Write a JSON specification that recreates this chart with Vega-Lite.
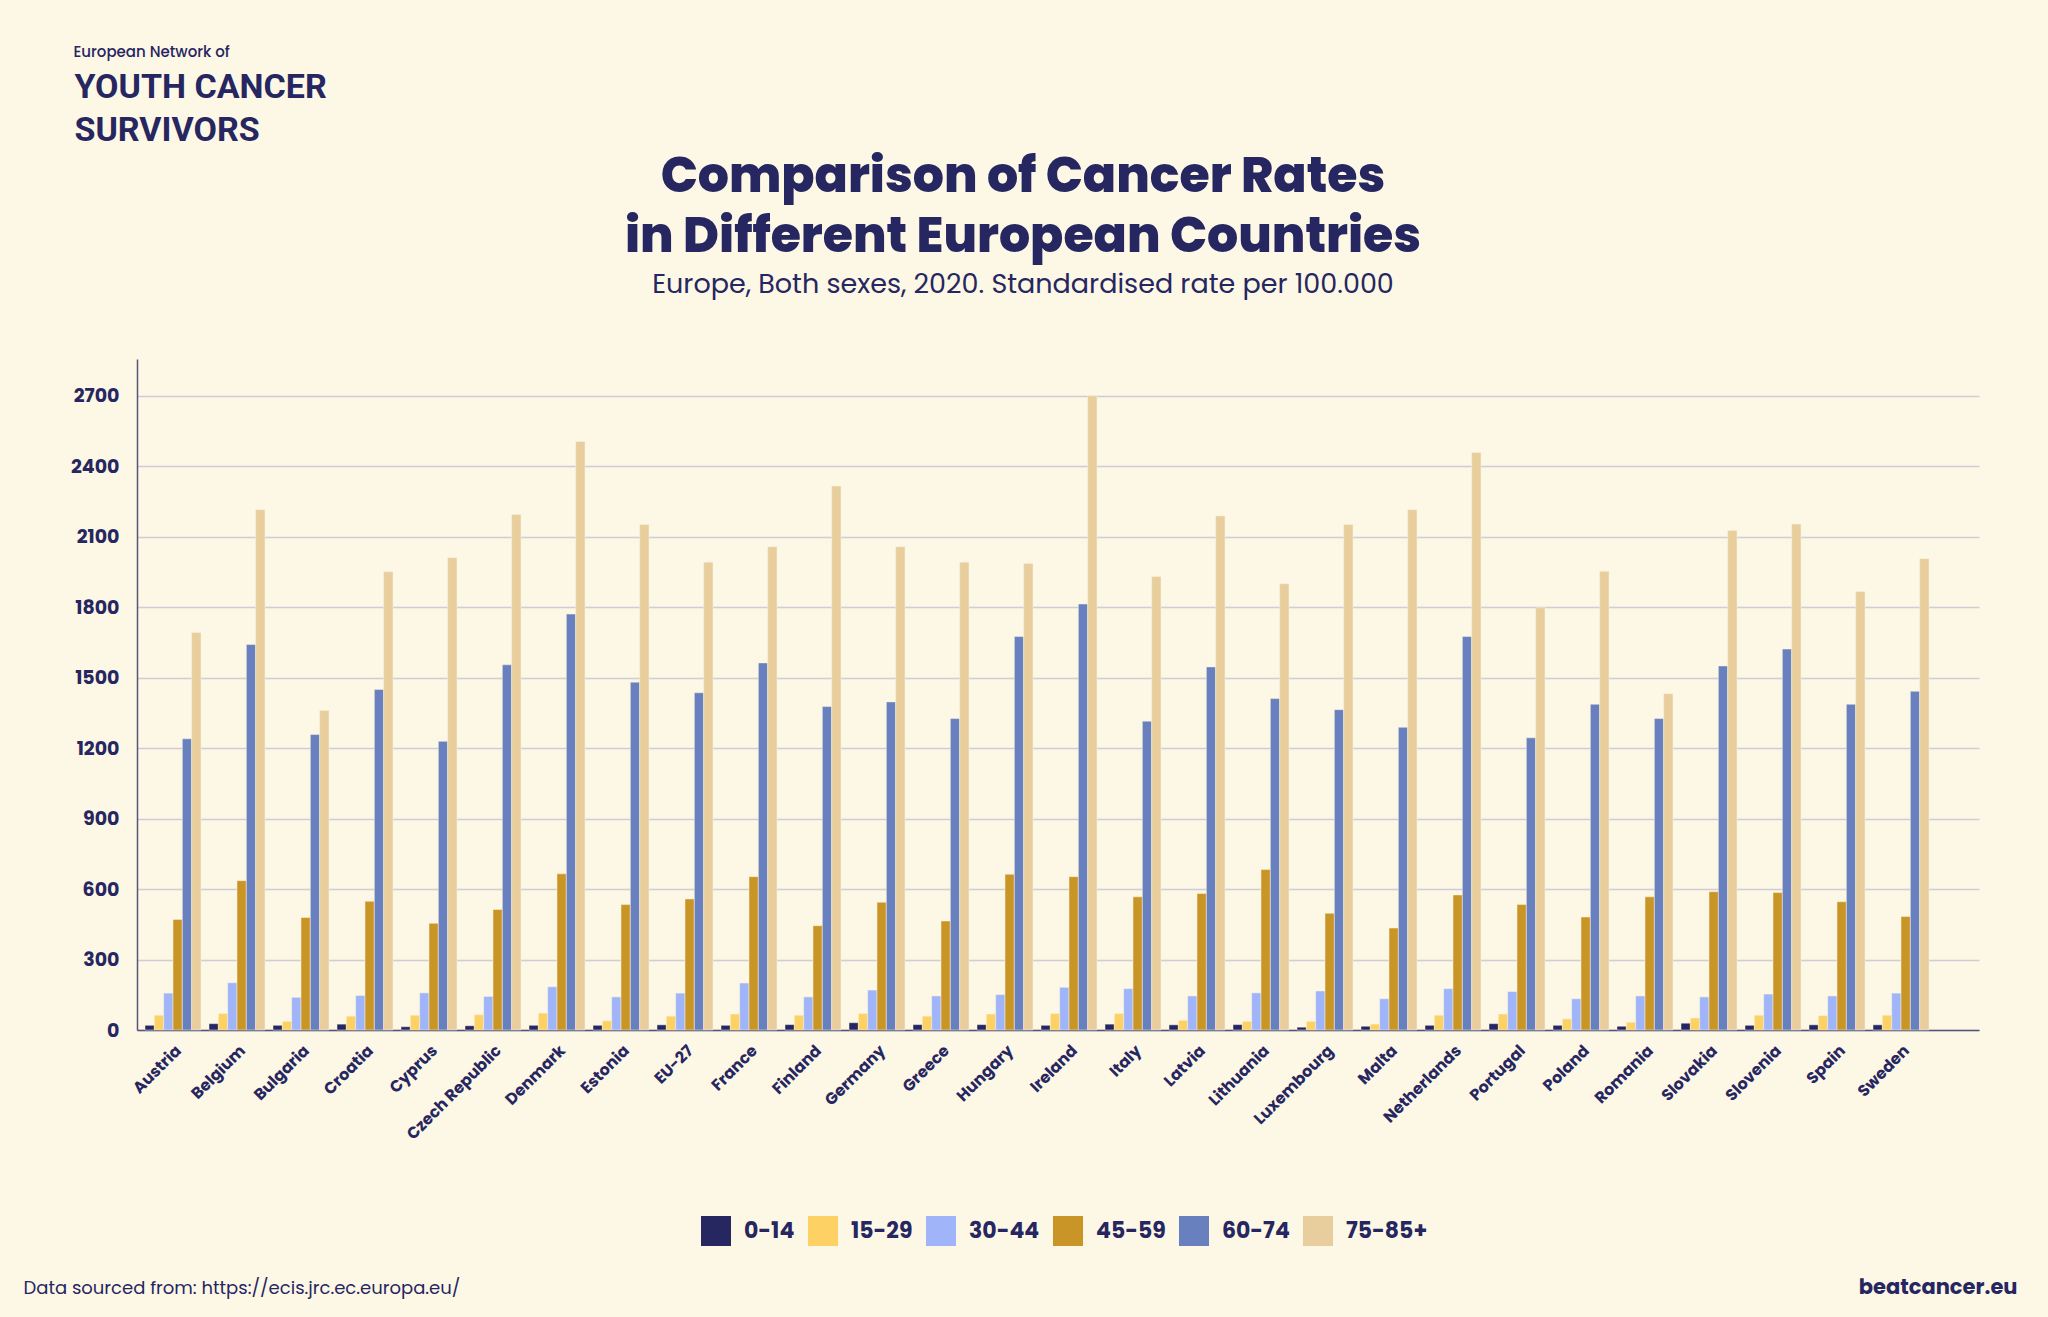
{
  "$schema": "https://vega.github.io/schema/vega-lite/v6.json",
  "width": 1842,
  "height": 671,
  "autosize": {"type": "none"},
  "padding": {"left": 137, "top": 359, "right": 69, "bottom": 287},
  "background": "#fdf7e6",
  "title": {
    "text": ["Comparison of Cancer Rates", "in Different European Countries"],
    "subtitle": "Europe, Both sexes, 2020. Standardised rate per 100.000",
    "anchor": "middle",
    "frame": "group",
    "dx": -35,
    "offset": -254,
    "font": "Poppins, Inter, sans-serif",
    "fontSize": 49,
    "fontWeight": 800,
    "lineHeight": 60,
    "color": "#262660",
    "subtitleFont": "Poppins, Inter, sans-serif",
    "subtitleFontSize": 27,
    "subtitleColor": "#262660",
    "subtitlePadding": 10
  },
  "data": {
    "values": [
      {"country": "Austria", "age": "0-14", "value": 20}, {"country": "Austria", "age": "15-29", "value": 63}, {"country": "Austria", "age": "30-44", "value": 157}, {"country": "Austria", "age": "45-59", "value": 471}, {"country": "Austria", "age": "60-74", "value": 1240}, {"country": "Austria", "age": "75-85+", "value": 1692},
      {"country": "Belgium", "age": "0-14", "value": 27}, {"country": "Belgium", "age": "15-29", "value": 70}, {"country": "Belgium", "age": "30-44", "value": 201}, {"country": "Belgium", "age": "45-59", "value": 636}, {"country": "Belgium", "age": "60-74", "value": 1641}, {"country": "Belgium", "age": "75-85+", "value": 2215},
      {"country": "Bulgaria", "age": "0-14", "value": 20}, {"country": "Bulgaria", "age": "15-29", "value": 37}, {"country": "Bulgaria", "age": "30-44", "value": 139}, {"country": "Bulgaria", "age": "45-59", "value": 479}, {"country": "Bulgaria", "age": "60-74", "value": 1258}, {"country": "Bulgaria", "age": "75-85+", "value": 1360},
      {"country": "Croatia", "age": "0-14", "value": 25}, {"country": "Croatia", "age": "15-29", "value": 59}, {"country": "Croatia", "age": "30-44", "value": 147}, {"country": "Croatia", "age": "45-59", "value": 548}, {"country": "Croatia", "age": "60-74", "value": 1450}, {"country": "Croatia", "age": "75-85+", "value": 1951},
      {"country": "Cyprus", "age": "0-14", "value": 14}, {"country": "Cyprus", "age": "15-29", "value": 63}, {"country": "Cyprus", "age": "30-44", "value": 158}, {"country": "Cyprus", "age": "45-59", "value": 454}, {"country": "Cyprus", "age": "60-74", "value": 1229}, {"country": "Cyprus", "age": "75-85+", "value": 2011},
      {"country": "Czech Republic", "age": "0-14", "value": 18}, {"country": "Czech Republic", "age": "15-29", "value": 65}, {"country": "Czech Republic", "age": "30-44", "value": 143}, {"country": "Czech Republic", "age": "45-59", "value": 513}, {"country": "Czech Republic", "age": "60-74", "value": 1555}, {"country": "Czech Republic", "age": "75-85+", "value": 2195},
      {"country": "Denmark", "age": "0-14", "value": 20}, {"country": "Denmark", "age": "15-29", "value": 72}, {"country": "Denmark", "age": "30-44", "value": 184}, {"country": "Denmark", "age": "45-59", "value": 665}, {"country": "Denmark", "age": "60-74", "value": 1771}, {"country": "Denmark", "age": "75-85+", "value": 2506},
      {"country": "Estonia", "age": "0-14", "value": 20}, {"country": "Estonia", "age": "15-29", "value": 39}, {"country": "Estonia", "age": "30-44", "value": 141}, {"country": "Estonia", "age": "45-59", "value": 534}, {"country": "Estonia", "age": "60-74", "value": 1481}, {"country": "Estonia", "age": "75-85+", "value": 2152},
      {"country": "EU-27", "age": "0-14", "value": 22}, {"country": "EU-27", "age": "15-29", "value": 59}, {"country": "EU-27", "age": "30-44", "value": 157}, {"country": "EU-27", "age": "45-59", "value": 558}, {"country": "EU-27", "age": "60-74", "value": 1436}, {"country": "EU-27", "age": "75-85+", "value": 1992},
      {"country": "France", "age": "0-14", "value": 20}, {"country": "France", "age": "15-29", "value": 68}, {"country": "France", "age": "30-44", "value": 200}, {"country": "France", "age": "45-59", "value": 653}, {"country": "France", "age": "60-74", "value": 1563}, {"country": "France", "age": "75-85+", "value": 2058},
      {"country": "Finland", "age": "0-14", "value": 23}, {"country": "Finland", "age": "15-29", "value": 63}, {"country": "Finland", "age": "30-44", "value": 141}, {"country": "Finland", "age": "45-59", "value": 444}, {"country": "Finland", "age": "60-74", "value": 1377}, {"country": "Finland", "age": "75-85+", "value": 2316},
      {"country": "Germany", "age": "0-14", "value": 31}, {"country": "Germany", "age": "15-29", "value": 70}, {"country": "Germany", "age": "30-44", "value": 170}, {"country": "Germany", "age": "45-59", "value": 544}, {"country": "Germany", "age": "60-74", "value": 1397}, {"country": "Germany", "age": "75-85+", "value": 2058},
      {"country": "Greece", "age": "0-14", "value": 23}, {"country": "Greece", "age": "15-29", "value": 59}, {"country": "Greece", "age": "30-44", "value": 145}, {"country": "Greece", "age": "45-59", "value": 464}, {"country": "Greece", "age": "60-74", "value": 1326}, {"country": "Greece", "age": "75-85+", "value": 1992},
      {"country": "Hungary", "age": "0-14", "value": 23}, {"country": "Hungary", "age": "15-29", "value": 68}, {"country": "Hungary", "age": "30-44", "value": 151}, {"country": "Hungary", "age": "45-59", "value": 663}, {"country": "Hungary", "age": "60-74", "value": 1675}, {"country": "Hungary", "age": "75-85+", "value": 1986},
      {"country": "Ireland", "age": "0-14", "value": 20}, {"country": "Ireland", "age": "15-29", "value": 70}, {"country": "Ireland", "age": "30-44", "value": 182}, {"country": "Ireland", "age": "45-59", "value": 653}, {"country": "Ireland", "age": "60-74", "value": 1814}, {"country": "Ireland", "age": "75-85+", "value": 2700},
      {"country": "Italy", "age": "0-14", "value": 25}, {"country": "Italy", "age": "15-29", "value": 70}, {"country": "Italy", "age": "30-44", "value": 176}, {"country": "Italy", "age": "45-59", "value": 567}, {"country": "Italy", "age": "60-74", "value": 1315}, {"country": "Italy", "age": "75-85+", "value": 1931},
      {"country": "Latvia", "age": "0-14", "value": 22}, {"country": "Latvia", "age": "15-29", "value": 41}, {"country": "Latvia", "age": "30-44", "value": 145}, {"country": "Latvia", "age": "45-59", "value": 581}, {"country": "Latvia", "age": "60-74", "value": 1546}, {"country": "Latvia", "age": "75-85+", "value": 2189},
      {"country": "Lithuania", "age": "0-14", "value": 23}, {"country": "Lithuania", "age": "15-29", "value": 37}, {"country": "Lithuania", "age": "30-44", "value": 158}, {"country": "Lithuania", "age": "45-59", "value": 683}, {"country": "Lithuania", "age": "60-74", "value": 1411}, {"country": "Lithuania", "age": "75-85+", "value": 1900},
      {"country": "Luxembourg", "age": "0-14", "value": 12}, {"country": "Luxembourg", "age": "15-29", "value": 37}, {"country": "Luxembourg", "age": "30-44", "value": 166}, {"country": "Luxembourg", "age": "45-59", "value": 497}, {"country": "Luxembourg", "age": "60-74", "value": 1364}, {"country": "Luxembourg", "age": "75-85+", "value": 2152},
      {"country": "Malta", "age": "0-14", "value": 16}, {"country": "Malta", "age": "15-29", "value": 25}, {"country": "Malta", "age": "30-44", "value": 133}, {"country": "Malta", "age": "45-59", "value": 434}, {"country": "Malta", "age": "60-74", "value": 1289}, {"country": "Malta", "age": "75-85+", "value": 2215},
      {"country": "Netherlands", "age": "0-14", "value": 20}, {"country": "Netherlands", "age": "15-29", "value": 63}, {"country": "Netherlands", "age": "30-44", "value": 176}, {"country": "Netherlands", "age": "45-59", "value": 575}, {"country": "Netherlands", "age": "60-74", "value": 1675}, {"country": "Netherlands", "age": "75-85+", "value": 2459},
      {"country": "Portugal", "age": "0-14", "value": 27}, {"country": "Portugal", "age": "15-29", "value": 68}, {"country": "Portugal", "age": "30-44", "value": 164}, {"country": "Portugal", "age": "45-59", "value": 534}, {"country": "Portugal", "age": "60-74", "value": 1244}, {"country": "Portugal", "age": "75-85+", "value": 1798},
      {"country": "Poland", "age": "0-14", "value": 20}, {"country": "Poland", "age": "15-29", "value": 47}, {"country": "Poland", "age": "30-44", "value": 133}, {"country": "Poland", "age": "45-59", "value": 481}, {"country": "Poland", "age": "60-74", "value": 1387}, {"country": "Poland", "age": "75-85+", "value": 1953},
      {"country": "Romania", "age": "0-14", "value": 16}, {"country": "Romania", "age": "15-29", "value": 33}, {"country": "Romania", "age": "30-44", "value": 145}, {"country": "Romania", "age": "45-59", "value": 567}, {"country": "Romania", "age": "60-74", "value": 1326}, {"country": "Romania", "age": "75-85+", "value": 1432},
      {"country": "Slovakia", "age": "0-14", "value": 29}, {"country": "Slovakia", "age": "15-29", "value": 51}, {"country": "Slovakia", "age": "30-44", "value": 141}, {"country": "Slovakia", "age": "45-59", "value": 589}, {"country": "Slovakia", "age": "60-74", "value": 1550}, {"country": "Slovakia", "age": "75-85+", "value": 2127},
      {"country": "Slovenia", "age": "0-14", "value": 20}, {"country": "Slovenia", "age": "15-29", "value": 63}, {"country": "Slovenia", "age": "30-44", "value": 153}, {"country": "Slovenia", "age": "45-59", "value": 585}, {"country": "Slovenia", "age": "60-74", "value": 1622}, {"country": "Slovenia", "age": "75-85+", "value": 2154},
      {"country": "Spain", "age": "0-14", "value": 22}, {"country": "Spain", "age": "15-29", "value": 61}, {"country": "Spain", "age": "30-44", "value": 145}, {"country": "Spain", "age": "45-59", "value": 546}, {"country": "Spain", "age": "60-74", "value": 1387}, {"country": "Spain", "age": "75-85+", "value": 1867},
      {"country": "Sweden", "age": "0-14", "value": 22}, {"country": "Sweden", "age": "15-29", "value": 63}, {"country": "Sweden", "age": "30-44", "value": 157}, {"country": "Sweden", "age": "45-59", "value": 483}, {"country": "Sweden", "age": "60-74", "value": 1442}, {"country": "Sweden", "age": "75-85+", "value": 2007}
    ]
  },
  "layer": [
    {
      "mark": {"type": "bar", "stroke": "#fbf3e1", "strokeWidth": 0.5},
      "encoding": {
        "x": {
          "field": "country",
          "type": "nominal",
          "sort": null,
          "scale": {"paddingInner": 0.125, "paddingOuter": 0.453, "align": 0.138},
          "axis": {
            "orient": "bottom",
            "labelAngle": -45,
            "labelPadding": 12,
            "labelFont": "Poppins, Inter, sans-serif",
            "labelFontSize": 16,
            "labelFontWeight": "bold",
            "labelColor": "#262660",
            "ticks": false,
            "domainColor": "#55557a",
            "domainWidth": 1.5,
            "grid": false,
            "title": "Data sourced from: https://ecis.jrc.ec.europa.eu/",
            "titleX": -114,
            "titleY": 263,
            "titleAlign": "left",
            "titleAnchor": null,
            "titleBaseline": "alphabetic",
            "titleFont": "Poppins, Inter, sans-serif",
            "titleFontSize": 18,
            "titleFontWeight": "normal",
            "titleColor": "#262660"
          }
        },
        "xOffset": {
          "field": "age",
          "type": "nominal",
          "scale": {"paddingInner": 0, "paddingOuter": 0}
        },
        "y": {
          "field": "value",
          "type": "quantitative",
          "scale": {"domain": [0, 2857], "nice": false},
          "axis": {
            "orient": "left",
            "values": [0, 300, 600, 900, 1200, 1500, 1800, 2100, 2400, 2700],
            "format": "d",
            "labelPadding": 18,
            "labelFont": "Poppins, Inter, sans-serif",
            "labelFontSize": 19,
            "labelFontWeight": "bold",
            "labelColor": "#262660",
            "ticks": false,
            "domainColor": "#55557a",
            "domainWidth": 1.5,
            "grid": true,
            "gridColor": "#cfccd6",
            "gridWidth": 1.5,
            "title": ["YOUTH CANCER", "SURVIVORS"],
            "titleAngle": 0,
            "titleX": -63,
            "titleY": -262,
            "titleAlign": "left",
            "titleAnchor": null,
            "titleBaseline": "alphabetic",
            "titleLineHeight": 43,
            "titleFont": "Roboto, sans-serif",
            "titleFontSize": 34,
            "titleFontWeight": "bold",
            "titleColor": "#262660"
          }
        },
        "color": {
          "field": "age",
          "type": "nominal",
          "scale": {
            "domain": ["0-14", "15-29", "30-44", "45-59", "60-74", "75-85+"],
            "range": ["#262660", "#fdd163", "#a0b5f9", "#c99526", "#6880be", "#e8ce9d"]
          },
          "legend": {
            "orient": "none",
            "legendX": 564,
            "legendY": 857,
            "direction": "horizontal",
            "title": null,
            "padding": 0,
            "symbolType": "square",
            "symbolSize": 900,
            "symbolStrokeWidth": 0,
            "symbolOpacity": 1,
            "labelFont": "Poppins, Inter, sans-serif",
            "labelFontSize": 22,
            "labelFontWeight": "bold",
            "labelColor": "#262660",
            "labelOffset": 13,
            "columnPadding": 13
          }
        }
      }
    },
    {
      "mark": {"type": "text", "opacity": 0},
      "encoding": {
        "x": {
          "field": "country",
          "type": "nominal",
          "sort": null,
          "axis": {
            "orient": "top",
            "labels": false,
            "ticks": false,
            "domain": false,
            "grid": false,
            "title": "European Network of",
            "titleX": -64,
            "titleY": -303,
            "titleAlign": "left",
            "titleAnchor": null,
            "titleBaseline": "alphabetic",
            "titleFont": "Poppins, Inter, sans-serif",
            "titleFontSize": 15,
            "titleFontWeight": 500,
            "titleColor": "#262660"
          }
        },
        "y": {
          "field": "value",
          "type": "quantitative",
          "axis": {
            "orient": "right",
            "labels": false,
            "ticks": false,
            "domain": false,
            "grid": false,
            "title": "beatcancer.eu",
            "titleAngle": 0,
            "titleX": 38,
            "titleY": 934,
            "titleAlign": "right",
            "titleAnchor": null,
            "titleBaseline": "alphabetic",
            "titleFont": "Poppins, Inter, sans-serif",
            "titleFontSize": 21,
            "titleFontWeight": "bold",
            "titleColor": "#262660"
          }
        },
        "text": {"value": ""}
      }
    }
  ],
  "resolve": {"axis": {"x": "independent", "y": "independent"}},
  "config": {
    "view": {"stroke": null}
  }
}
